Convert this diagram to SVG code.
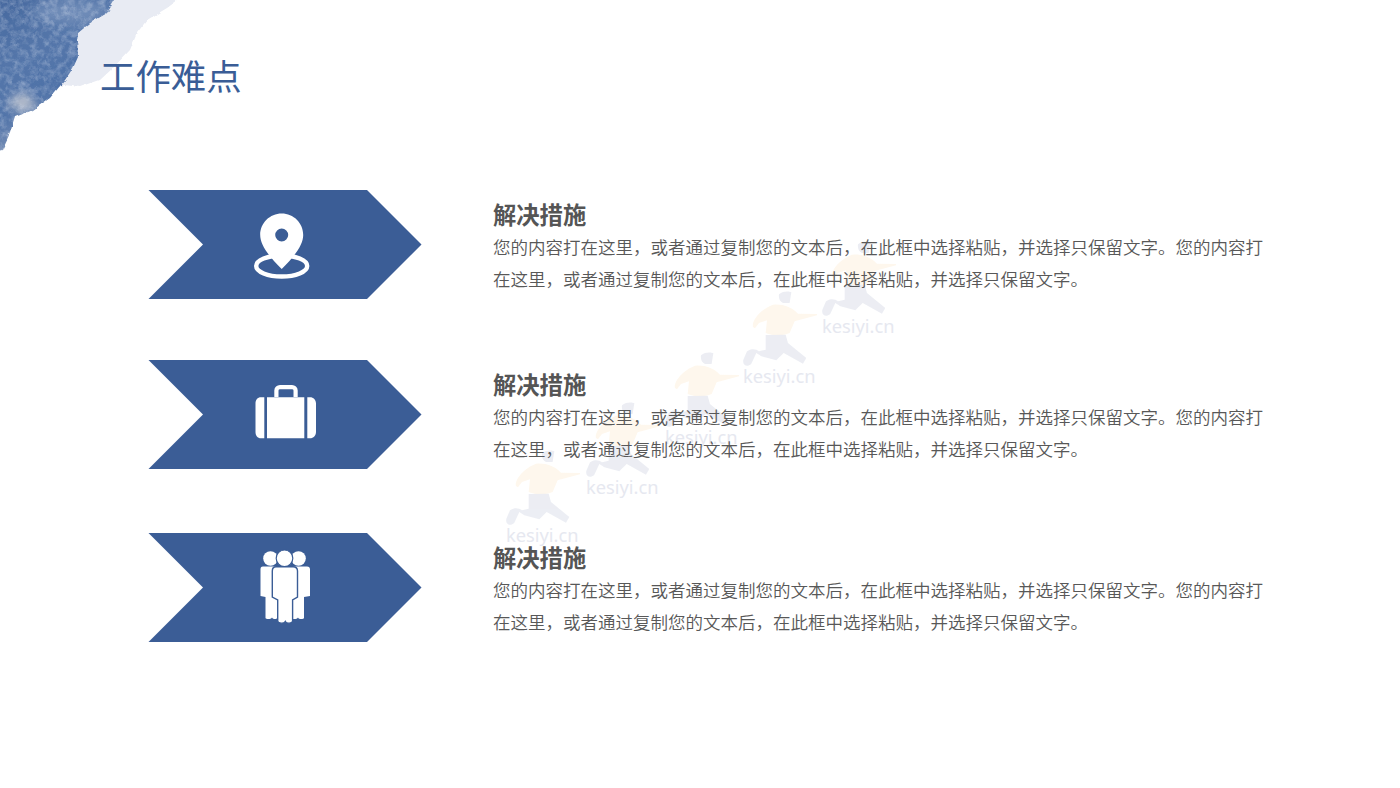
<svg xmlns="http://www.w3.org/2000/svg" xmlns:xlink="http://www.w3.org/1999/xlink" width="1400" height="788" viewBox="0 0 1400 788">
<style>
text{font-family:"Noto Sans CJK SC","Noto Sans",sans-serif}
.title{font-size:35.4px;fill:#3a5d96}
.head{font-size:23.3px;font-weight:700;fill:#555}
.body{font-size:17.5px;fill:#585858;font-weight:350}
.wm{font-family:"Noto Sans",sans-serif;font-size:18.3px;fill:#e6e8f0}
.chev{fill:#3b5d96}
.ic{fill:#fff}
</style>
<defs>
<linearGradient id="blue" gradientUnits="userSpaceOnUse" x1="0" y1="0" x2="85" y2="150">
<stop offset="0" stop-color="#47699f"/><stop offset=".35" stop-color="#5476aa"/><stop offset=".6" stop-color="#4f72a8"/><stop offset=".82" stop-color="#7f94b8"/><stop offset="1" stop-color="#a6b0c4"/>
</linearGradient>
<filter id="mottle" filterUnits="userSpaceOnUse" x="-20" y="-20" width="160" height="190">
<feTurbulence type="fractalNoise" baseFrequency=".16" numOctaves="4" seed="7"/>
<feColorMatrix values="0 0 0 0 .85  0 0 0 0 .88  0 0 0 0 .95  .7 0 0 0 -.28"/>
<feComposite in2="SourceAlpha" operator="in"/>
</filter>
<filter id="rough" filterUnits="userSpaceOnUse" x="-30" y="-30" width="240" height="220">
<feTurbulence type="fractalNoise" baseFrequency=".1" numOctaves="3" seed="3" result="n"/>
<feDisplacementMap in="SourceGraphic" in2="n" scale="4" xChannelSelector="R" yChannelSelector="G"/>
</filter>
<filter id="soft" x="-60%" y="-60%" width="220%" height="220%"><feGaussianBlur stdDeviation="6"/></filter>
<clipPath id="darkClip"><path d="M115,-20L115,0L107,13L90,23L78,33L77,40L78,57L73,68L65,80L50,98L33,110L15,117L10,133L2,150L-20,155L-20,-20Z"/></clipPath>
<g id="runner" opacity=".85" transform="scale(.3333) translate(-760,-280)">
<path fill="#fef6ea" d="M790,112C785,92 815,58 850,45C875,42 905,50 925,72L982,73L982,77L915,95L900,130C880,140 850,140 828,130L832,92L808,100L796,116Z"/>
<path fill="#e9ebf2" d="M868,14C880,3 900,5 905,8L900,40L880,40C870,35 866,25 868,14ZM828,136L888,135L895,160L950,205L940,222L882,190L860,212L815,200L800,190L785,222C772,236 755,225 762,208L772,185C785,175 800,178 808,185L828,180Z"/>
</g>
</defs>

<g id="watercolor" filter="url(#rough)">
<path fill="#e8ebf3" d="M180,-20L178,0L167,8L147,20L137,33L130,50L113,68L100,80L80,87L63,85L-20,130L-20,-20Z"/>
<path fill="url(#blue)" d="M115,-20L115,0L107,13L90,23L78,33L77,40L78,57L73,68L65,80L50,98L33,110L15,117L10,133L2,150L-20,155L-20,-20Z"/>
<g clip-path="url(#darkClip)">
<ellipse cx="22" cy="103" rx="12" ry="8" fill="#c9ccd3" filter="url(#soft)"/>
<ellipse cx="70" cy="12" rx="38" ry="12" fill="#6f8cb8" filter="url(#soft)"/>
</g>
<path filter="url(#mottle)" d="M115,-20L115,0L107,13L90,23L78,33L77,40L78,57L73,68L65,80L50,98L33,110L15,117L10,133L2,150L-20,155L-20,-20Z"/>
</g>

<g id="watermarks">
<g transform="translate(822,333)"><use xlink:href="#runner" href="#runner"/><text class="wm">kesiyi.cn</text></g>
<g transform="translate(743,383)"><use xlink:href="#runner" href="#runner"/><text class="wm">kesiyi.cn</text></g>
<g transform="translate(665,444)"><use xlink:href="#runner" href="#runner"/><text class="wm">kesiyi.cn</text></g>
<g transform="translate(586,494)"><use xlink:href="#runner" href="#runner"/><text class="wm">kesiyi.cn</text></g>
<g transform="translate(506,542)"><use xlink:href="#runner" href="#runner"/><text class="wm">kesiyi.cn</text></g>
</g>

<text id="title" class="title" x="100" y="90">工作难点</text>

<g id="connectors"></g>

<g id="node-1">
<path class="chev" d="M148.5,190H367L421.5,244.5L367,299H148.5L203,244.5Z"/>
<path class="ic" fill-rule="evenodd" d="M281.7,213.5C293.5,213.5 303.2,223 303.2,235C303.2,244 296,255 281.7,269C267.5,255 260.2,244 260.2,235C260.2,223 269.9,213.5 281.7,213.5ZM281.7,228.5A6.5,6.5 0 1 0 281.7,241.5A6.5,6.5 0 1 0 281.7,228.5Z"/>
<ellipse cx="281.7" cy="266" rx="25.5" ry="10.5" fill="none" stroke="#fff" stroke-width="4.4"/>
</g>
<g id="text-1">
<text class="head" x="493" y="224">解决措施</text>
<text class="body" x="493" y="254">您的内容打在这里，或者通过复制您的文本后，在此框中选择粘贴，并选择只保留文字。您的内容打</text>
<text class="body" x="493" y="286">在这里，或者通过复制您的文本后，在此框中选择粘贴，并选择只保留文字。</text>
</g>

<g id="node-2">
<path class="chev" d="M148.5,360H367L421.5,414.5L367,469H148.5L203,414.5Z"/>
<path class="ic" d="M264.3,397.3V438.3H261C257.5,438.3 255.5,435.5 255.5,432V403.5C255.5,400 257.5,397.3 261,397.3ZM267,397.3H304.3V438.3H267ZM307.3,397.3H310C313.5,397.3 316,400 316,403.5V432C316,435.5 313.5,438.3 310,438.3H307.3Z"/>
<path fill="none" stroke="#fff" stroke-width="4.2" d="M276.4,397V390.5C276.4,388.5 278,387.1 280,387.1H292C294,387.1 295.6,388.5 295.6,390.5V397"/>
</g>
<g id="text-2">
<text class="head" x="493" y="394">解决措施</text>
<text class="body" x="493" y="424">您的内容打在这里，或者通过复制您的文本后，在此框中选择粘贴，并选择只保留文字。您的内容打</text>
<text class="body" x="493" y="456">在这里，或者通过复制您的文本后，在此框中选择粘贴，并选择只保留文字。</text>
</g>

<g id="node-3">
<path class="chev" d="M148.5,533H367L421.5,587.5L367,642H148.5L203,587.5Z"/>
<g class="ic">
<circle cx="270.5" cy="558.5" r="7.3"/><circle cx="298.5" cy="558.5" r="7.3"/>
<path d="M263,566.5H277V618C277,619.5 273,619.5 272,617.5C271,619.5 266,619.5 265.5,618V597L260.5,596V569.5C260.5,567.5 261,566.5 263,566.5Z"/>
<path d="M292,566.5H307C309,566.5 310,567.5 310,569.5V596L304,597V618C303.5,619.5 298.5,619.5 298,617.5C297,619.5 292,619.5 292,618Z"/>
<circle cx="284.5" cy="558.3" r="8.3" stroke="#3b5d96" stroke-width="1.2"/>
<path stroke="#3b5d96" stroke-width="1.4" d="M276,566.8H293C296,566.8 297.5,568.5 297.5,571V597L292.6,600V621C292.5,623.5 286.5,624 285.3,621.5C284,624 278,623.5 277.7,621V600L272.3,597V571C272.3,568.5 273,566.8 276,566.8Z"/>
</g>
</g>
<g id="text-3">
<text class="head" x="493" y="567">解决措施</text>
<text class="body" x="493" y="597">您的内容打在这里，或者通过复制您的文本后，在此框中选择粘贴，并选择只保留文字。您的内容打</text>
<text class="body" x="493" y="629">在这里，或者通过复制您的文本后，在此框中选择粘贴，并选择只保留文字。</text>
</g>
</svg>
